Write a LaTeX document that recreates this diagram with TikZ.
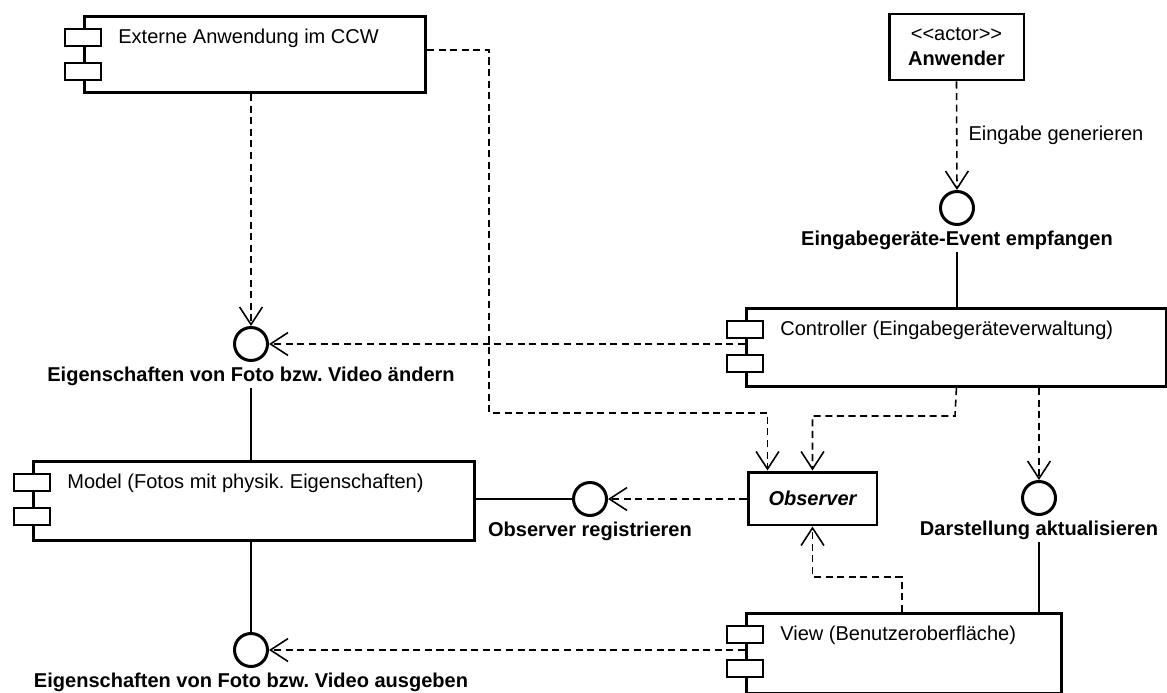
\documentclass[tikz,border=0pt]{standalone}
\usepackage{fontspec}
\setmainfont{Liberation Sans}
\usetikzlibrary{arrows.meta, positioning, calc}

\newcommand{\diafont}{\fontsize{11.4}{14.2}\selectfont}
% the two small boxes on the left edge of a component
\newcommand{\compicons}[1]{%
  \draw[compicon] ($(#1.north west)+(-18,14)$) rectangle ++(36,17);
  \draw[compicon] ($(#1.north west)+(-18,48)$) rectangle ++(36,17);
}

\tikzset{
  comp/.style={draw, line width=1.7pt, rectangle, inner sep=0pt, anchor=north west},
  comptext/.style={anchor=base west, xshift=0.7cm, yshift=-0.58cm, inner sep=0pt},
  compicon/.style={draw, line width=1.5pt, fill=white},
  classbox/.style={draw, line width=1.7pt, rectangle, align=center},
  iface/.style={circle, draw, line width=1.7pt, minimum size=0.66cm, inner sep=0pt},
  ifacelbl/.style={anchor=base, yshift=-0.4cm, font=\diafont\bfseries, inner sep=1pt},
  dep/.style={line width=0.9pt, dash pattern=on 4pt off 2.6pt, -{Straight Barb[length=10pt, width=13pt]}},
  wire/.style={line width=0.9pt},
}

\begin{document}
\frenchspacing
\begin{tikzpicture}[x=0.02cm, y=-0.02cm, font=\diafont]
  \useasboundingbox (0,0) rectangle (1167,693);

  % Components
  \node[comp, minimum width=6.82cm, minimum height=1.52cm,
        label={[comptext]north west:Externe Anwendung im CCW}] (ext) at (83,15) {};
  \node[comp, minimum width=8.4cm, minimum height=1.56cm,
        label={[comptext]north west:Controller (Eingabegeräteverwaltung)}] (ctrl) at (745,307) {};
  \node[comp, minimum width=8.82cm, minimum height=1.58cm,
        label={[comptext]north west:Model (Fotos mit physik. Eigenschaften)}] (model) at (32,460) {};
  \node[comp, minimum width=6.3cm, minimum height=1.6cm,
        label={[comptext]north west:View (Benutzeroberfläche)}] (view) at (745,612) {};
  \compicons{ext}
  \compicons{ctrl}
  \compicons{model}
  \compicons{view}

  % Actor and observer
  \node[classbox, minimum width=2.7cm, minimum height=1.32cm] (actor) at (956.5,47)
    {<\kern0pt<actor>\kern0pt>\\\textbf{Anwender}};
  \node[classbox, minimum width=2.58cm, minimum height=1.06cm, font=\diafont\bfseries\itshape]
    (obs) at (812.5,498.5) {Observer};

  % Interfaces
  \node[iface, label={[ifacelbl, name=lEvent]below:Eingabegeräte-Event empfangen}] (ciEvent) at (957,208) {};
  \node[iface, label={[ifacelbl, name=lChange]below:Eigenschaften von Foto bzw. Video ändern}] (ciChange) at (251,344) {};
  \node[iface, label={[ifacelbl, name=lReg]below:Observer registrieren}] (ciReg) at (590,499) {};
  \node[iface, label={[ifacelbl, name=lUpdate]below:Darstellung aktualisieren}] (ciUpdate) at (1039,498) {};
  \node[iface, label={[ifacelbl, name=lOut]below:Eigenschaften von Foto bzw. Video ausgeben}] (ciOut) at (251,650) {};

  % Bends
  \coordinate (bendExt) at (489,413);
  \coordinate (bendCtrl) at (955,416);
  \coordinate (bendView) at (902,577);

  % Dependencies
  \draw[dep] (actor.south) -- node[right=0.22cm, inner sep=0pt] (lGen) {Eingabe generieren} (ciEvent.north);
  \draw[dep] (ext.south -| ciChange) -- (ciChange.north);
  \draw[dep] (ciChange -| ctrl.west) -- (ciChange.east);
  \draw[dep] ($(ext.north east)+(0,35)$) -| (bendExt) -| ($(obs.north)+(-45,0)$);
  \draw[dep] (ctrl.south) -- (bendCtrl) -| (obs.north);
  \draw[dep] (ctrl.south -| ciUpdate) -- (ciUpdate.north);
  \draw[dep] (ciReg -| obs.west) -- (ciReg.east);
  \draw[dep] (bendView |- view.north) -- (bendView) -| (obs.south);
  \draw[dep] (ciOut -| view.west) -- (ciOut.east);

  % Provided interfaces
  \draw[wire] (lEvent.south -| ciEvent) -- (ctrl.north -| ciEvent);
  \draw[wire] (lChange.south -| ciChange) -- (model.north -| ciChange);
  \draw[wire] (ciReg -| model.east) -- (ciReg.west);
  \draw[wire] (model.south -| ciOut) -- (ciOut.north);
  \draw[wire] (lUpdate.south -| ciUpdate) -- (view.north -| ciUpdate);
\end{tikzpicture}
\end{document}
